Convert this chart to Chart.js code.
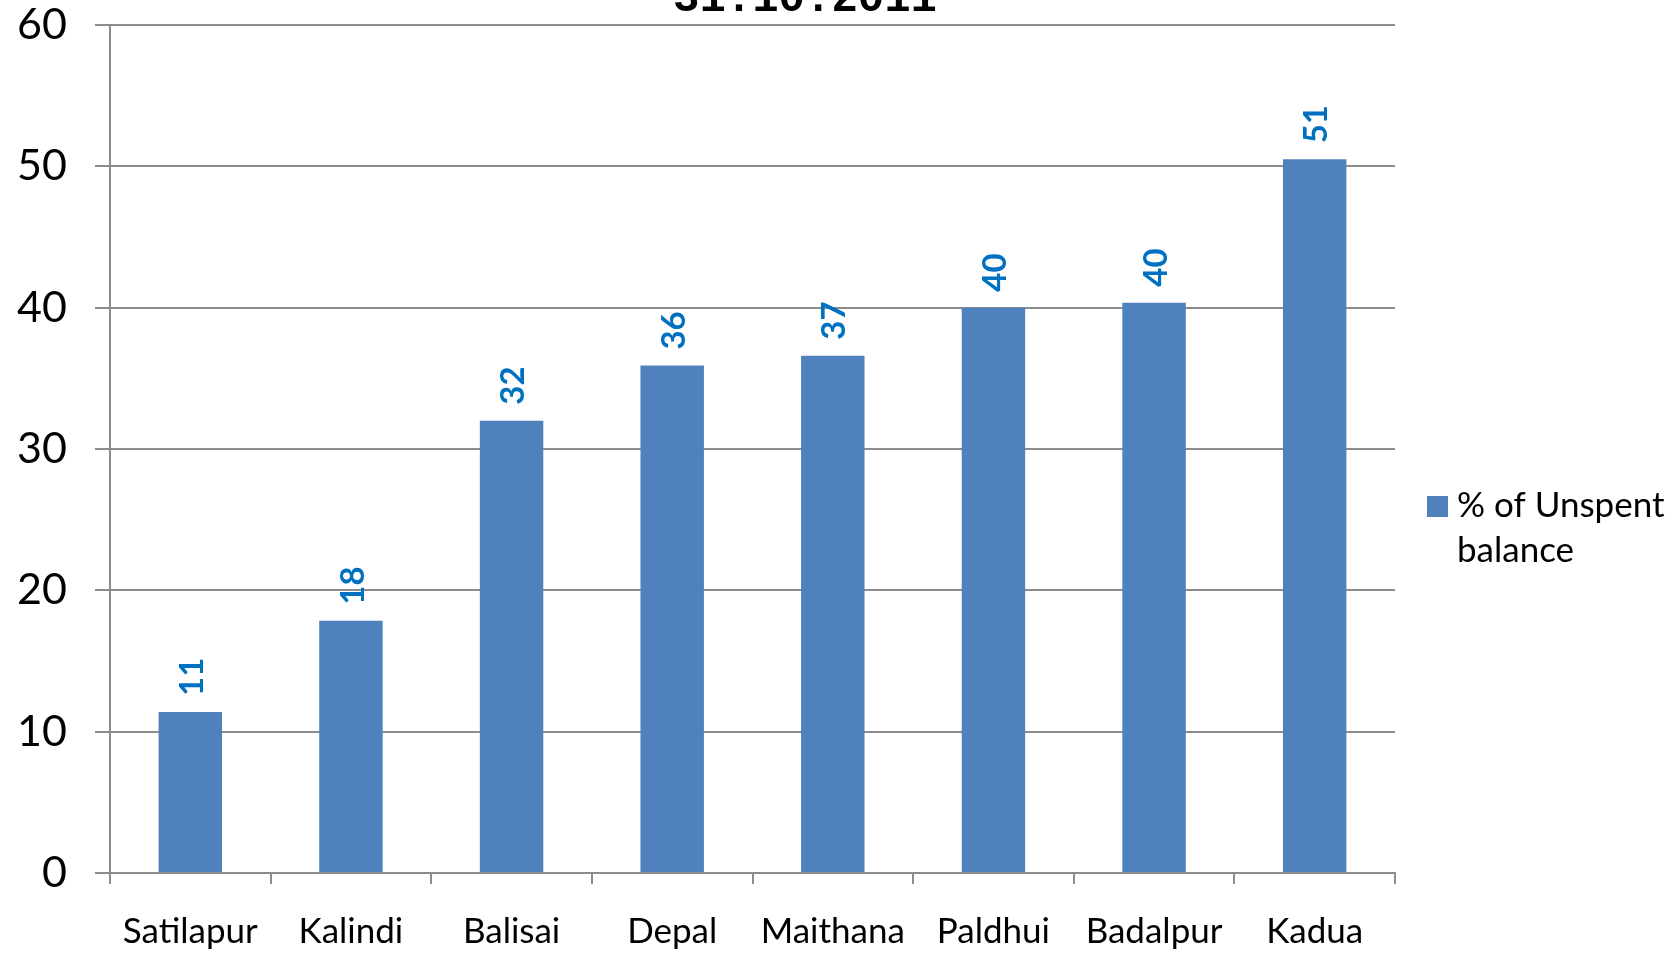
<!DOCTYPE html>
<html>
<head>
<meta charset="utf-8">
<script src="https://cdn.jsdelivr.net/npm/chart.js@4/dist/chart.umd.min.js"></script>
<style>
  html, body { margin: 0; padding: 0; background: #fff; }
  #wrap { width: 1677px; height: 954px; position: relative; }
</style>
</head>
<body>
<div id="wrap"><canvas id="grafica" width="1677" height="954"></canvas></div>
<script>
// Datos del gráfico
const categorias = ['Satilapur', 'Kalindi', 'Balisai', 'Depal', 'Maithana', 'Paldhui', 'Badalpur', 'Kadua'];
const valores = [11.4, 17.85, 32.0, 35.9, 36.6, 40.0, 40.35, 50.5];
const etiquetas = ['11', '18', '32', '36', '37', '40', '40', '51'];
const nombreSerie = '% of Unspent balance';
const lineasLeyenda = ['% of Unspent', 'balance'];
const titulo = '31.10.2011';

const azul = '#4F81BD';
const gris = '#8c8c8c';

// Título recortado arriba
const pluginTitulo = {
    id: 'titulo',
    afterDraw(chart) {
        const c = chart.ctx;
        c.save();
        c.font = 'bold 44px "Liberation Mono", monospace';
        c.fillStyle = '#000';
        c.textAlign = 'center';
        c.textBaseline = 'alphabetic';
        c.fillText(titulo, 805, 11);
        c.restore();
    }
};

// Etiquetas de valor giradas
const pluginEtiquetas = {
    id: 'etiquetas',
    afterDatasetsDraw(chart) {
        const c = chart.ctx;
        const meta = chart.getDatasetMeta(0);
        c.save();
        c.font = 'bold 33px Lato, sans-serif';
        c.fillStyle = '#0070C0';
        c.textAlign = 'left';
        c.textBaseline = 'middle';
        meta.data.forEach((bar, i) => {
            c.save();
            c.translate(bar.x + 2, bar.y - 16);
            c.rotate(-Math.PI / 2);
            c.fillText(etiquetas[i], 0, 0);
            c.restore();
        });
        c.restore();
    }
};

// Leyenda a la derecha en dos líneas
const pluginLeyenda = {
    id: 'leyenda',
    afterDraw(chart) {
        const c = chart.ctx;
        c.save();
        c.fillStyle = azul;
        c.fillRect(1427, 496, 21, 21);
        c.font = '35px Lato, sans-serif';
        c.fillStyle = '#000';
        c.textAlign = 'left';
        c.textBaseline = 'middle';
        lineasLeyenda.forEach((t, i) => c.fillText(t, 1457, 506 + i * 45));
        c.restore();
    }
};

const ctx = document.getElementById('grafica').getContext('2d');
let chart = new Chart(ctx, {
    type: 'bar',
    data: {
        labels: categorias,
        datasets: [{
            label: nombreSerie,
            data: valores,
            backgroundColor: azul,
            borderWidth: 0,
            categoryPercentage: 1,
            barPercentage: 0.395
        }]
    },
    options: {
        responsive: false,
        animation: false,
        layout: { padding: { top: 25, right: 282, left: 0, bottom: 0 } },
        plugins: {
            legend: { display: false },
            tooltip: { enabled: false }
        },
        scales: {
            x: {
                afterFit(s) { s.height = 81; s.paddingLeft = 0; s.paddingRight = 0; },
                grid: { display: true, offset: true, drawOnChartArea: false, color: gris, lineWidth: 2, tickLength: 11 },
                border: { display: true, color: gris, width: 2 },
                ticks: { color: '#000', font: { family: 'Lato, sans-serif', size: 35 }, padding: 27, maxRotation: 0 }
            },
            y: {
                min: 0,
                max: 60,
                afterFit(s) { s.width = 110; s.paddingTop = 0; s.paddingBottom = 0; },
                grid: { color: gris, lineWidth: 2, tickLength: 15 },
                border: { display: true, color: gris, width: 2 },
                ticks: { stepSize: 10, color: '#000', font: { family: 'Lato, sans-serif', size: 43 }, padding: 28 }
            }
        }
    },
    plugins: [pluginTitulo, pluginEtiquetas, pluginLeyenda]
});
</script>
</body>
</html>
